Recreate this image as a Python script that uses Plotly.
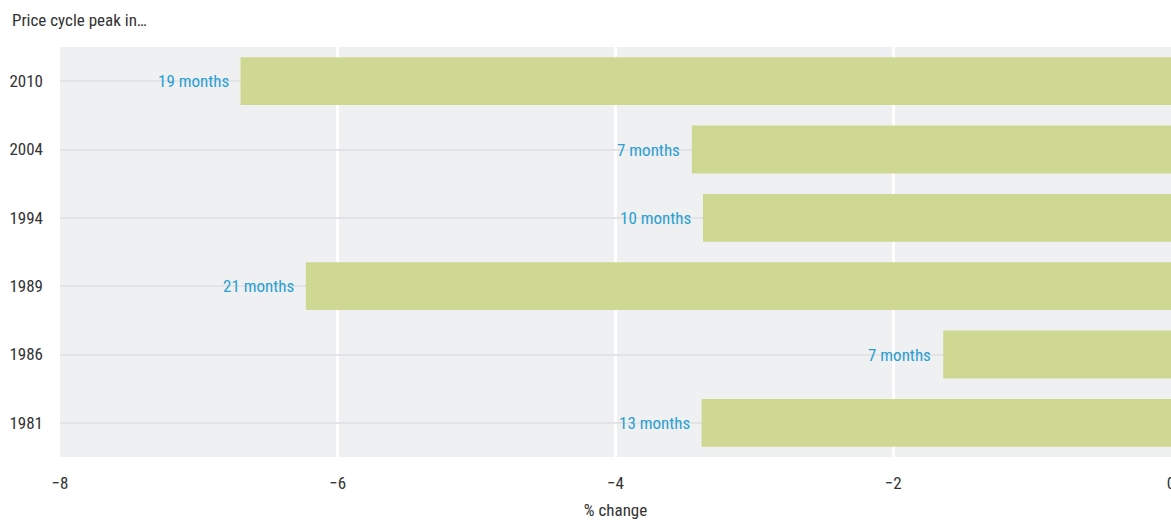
import plotly.graph_objects as go

# Peak years of each price cycle, top to bottom
peak_years = ["2010", "2004", "1994", "1989", "1986", "1981"]
# Percentage change from peak to trough
pct_change = [-6.70, -3.45, -3.37, -6.23, -1.64, -3.38]
# Length of the downturn
duration_labels = ["19 months", "7 months", "10 months", "21 months", "7 months", "13 months"]

x_ticks = [-8, -6, -4, -2, 0]
x_tick_text = ["\u22128", "\u22126", "\u22124", "\u22122", "0"]

FONT = "Liberation Sans Narrow, Roboto Condensed, Roboto, Arial"

# bottom-to-top category order on the y axis
y_order = peak_years[::-1]

fig = go.Figure(
    go.Bar(
        y=peak_years,
        x=pct_change,
        orientation="h",
        marker=dict(color="#cfd892", line=dict(width=0)),
        hoverinfo="skip",
    )
)

# Duration labels sit just left of each bar's end (y given as category index)
for yr, val, lab in zip(peak_years, pct_change, duration_labels):
    fig.add_annotation(
        x=val, y=y_order.index(yr), text=lab, showarrow=False,
        xanchor="right", yanchor="middle", xshift=-10,
        font=dict(family=FONT, size=17, color="#2a9fd0"),
    )

fig.update_layout(
    width=1171, height=520,
    margin=dict(l=60, r=0, t=47, b=63),
    paper_bgcolor="white",
    plot_bgcolor="#eff0f2",
    bargap=0.3,
    showlegend=False,
    font=dict(family=FONT, size=17, color="#333333"),
    xaxis=dict(
        range=[-8, 0],
        tickvals=x_ticks, ticktext=x_tick_text,
        showgrid=True, gridcolor="#ffffff", gridwidth=3,
        zeroline=False, showline=False, ticks="",
        ticklabelstandoff=14, ticklabeloverflow="allow",
        automargin=False,
        title=dict(text="% change", standoff=18, font=dict(size=17)),
    ),
    yaxis=dict(
        type="category",
        categoryorder="array", categoryarray=y_order,
        range=[-0.5, len(y_order) - 0.5],
        showgrid=True, gridcolor="#e1e3e7", gridwidth=2,
        zeroline=False, showline=False, ticks="",
        ticklabelstandoff=16, automargin=False,
    ),
    annotations=list(fig.layout.annotations) + [
        dict(
            text="Price cycle peak in\u2026", x=0, y=1, xref="paper", yref="paper",
            xanchor="left", yanchor="middle", xshift=-50, yshift=27,
            showarrow=False, font=dict(family=FONT, size=17, color="#333333"),
        )
    ],
)

fig.write_html("out.html")
